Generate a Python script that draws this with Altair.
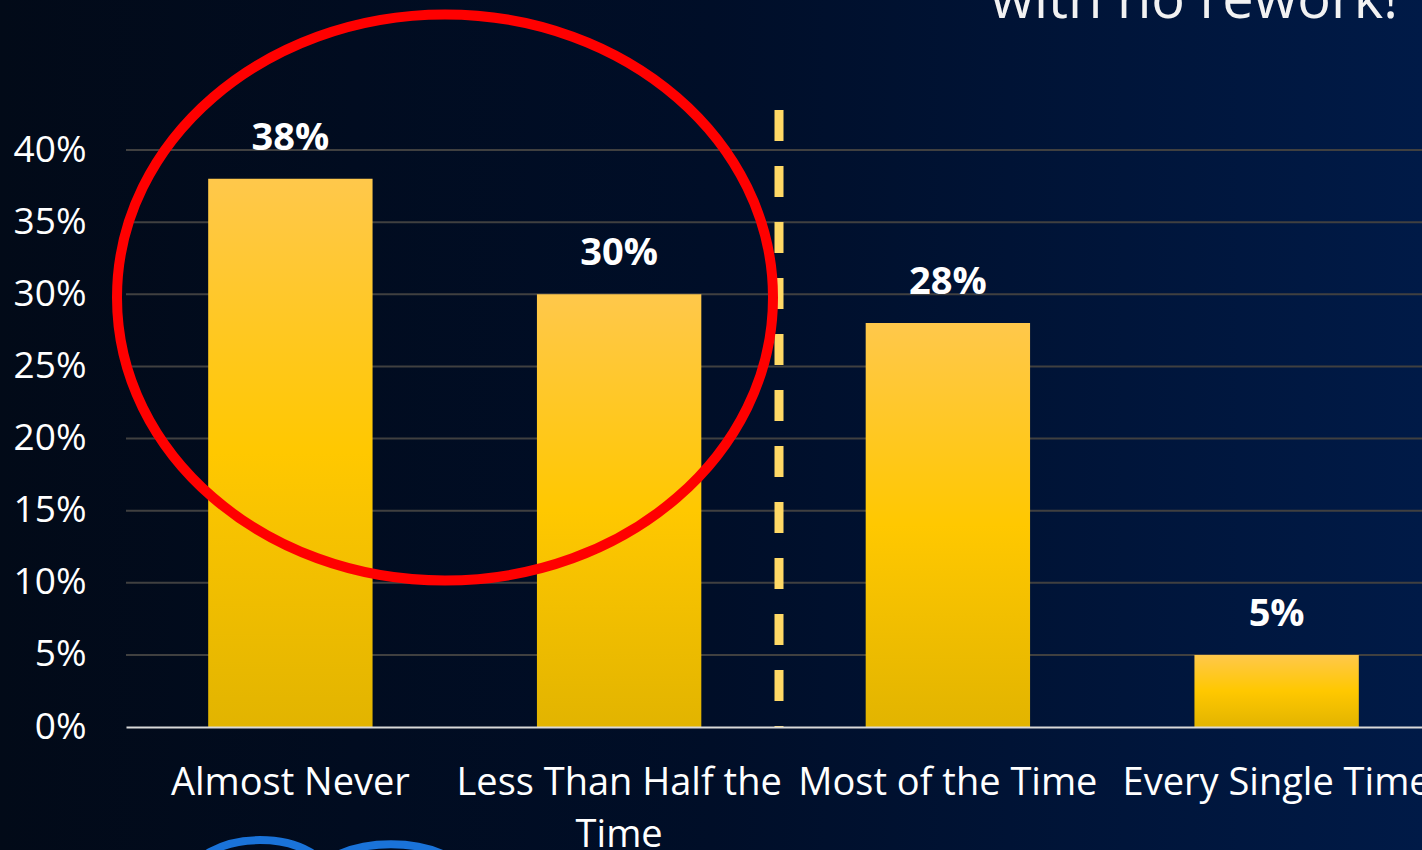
import altair as alt
import pandas as pd

# ---- data ----
categories = ["Almost Never", "Less Than Half the Time", "Most of the Time", "Every Single Time"]
shares = [0.38, 0.30, 0.28, 0.05]
value_labels = ["38%", "30%", "28%", "5%"]
y_ticks = [0.0, 0.05, 0.10, 0.15, 0.20, 0.25, 0.30, 0.35, 0.40]
wrapped = {"Less Than Half the Time": ["Less Than Half the", "Time"]}
headline = "with no rework!"

# ---- layout ----
W, H = 1296, 577
PAD_L, PAD_T, PAD_R, PAD_B = 126, 150, 0, 123
FONT = "Open Sans"

df = pd.DataFrame({"cat": categories, "share": shares, "label": value_labels})
grid_df = pd.DataFrame({"v": y_ticks[1:]})
one = pd.DataFrame({"a": [0]})

label_expr = "".join(
    f"datum.value == '{k}' ? {v!r} : " for k, v in wrapped.items()
) + "datum.value"

xscale = alt.Scale(domain=categories, range=[0, 1315], paddingInner=0.5, paddingOuter=0.25)
yscale = alt.Scale(domain=[0, 0.4], nice=False)

x_axis = alt.Axis(
    title=None, labelAngle=0, ticks=False, grid=False,
    domainColor="#d9d9d9", domainWidth=2,
    labelColor="white", labelFont=FONT, labelFontSize=38,
    labelPadding=37, labelLineHeight=52, labelExpr=label_expr,
    labelLimit=1000, labelOverlap=False, zindex=1,
)
y_axis = alt.Axis(
    title=None, values=y_ticks, format=".0%", grid=False, domain=False, ticks=False,
    labelColor="white", labelFont=FONT, labelFontSize=37, labelPadding=40, zindex=1,
)

bg_grad = alt.LinearGradient(
    gradient="linear",
    stops=[alt.GradientStop(color="#020a18", offset=0),
           alt.GradientStop(color="#000e28", offset=0.5),
           alt.GradientStop(color="#001a47", offset=1)],
    x1=0, x2=1, y1=0, y2=0,
)
bar_grad = alt.LinearGradient(
    gradient="linear",
    stops=[alt.GradientStop(color="#FFC84B", offset=0),
           alt.GradientStop(color="#FFC800", offset=0.5),
           alt.GradientStop(color="#E2B400", offset=1)],
    x1=0, x2=0, y1=0, y2=1,
)

def ellipse_path(r):
    k = 0.55228
    return (f"M -1 0 C -1 {-r*k:.4f} {-k} {-r} 0 {-r} "
            f"C {k} {-r} 1 {-r*k:.4f} 1 0 "
            f"C 1 {r*k:.4f} {k} {r} 0 {r} "
            f"C {-k} {r} -1 {r*k:.4f} -1 0 Z")

background = alt.Chart(one).mark_rect(fill=bg_grad).encode(
    x=alt.value(-PAD_L), x2=alt.value(W + PAD_R),
    y=alt.value(-PAD_T), y2=alt.value(H + PAD_B),
)

grid = alt.Chart(grid_df).mark_rule(color="#404040", strokeWidth=2).encode(
    y=alt.Y("v:Q", scale=yscale, axis=y_axis),
)

bars = alt.Chart(df).mark_bar(fill=bar_grad).encode(
    x=alt.X("cat:N", scale=xscale, sort=categories, axis=x_axis),
    y=alt.Y("share:Q", scale=yscale, axis=y_axis),
)

texts = alt.Chart(df).mark_text(
    dy=-29, baseline="alphabetic", fontSize=38, fontWeight="bold", font=FONT, color="white"
).encode(
    x=alt.X("cat:N", scale=xscale, sort=categories, axis=x_axis),
    y=alt.Y("share:Q", scale=yscale, axis=y_axis),
    text="label:N",
)

divider = alt.Chart(one).mark_rule(
    color="#FFD966", strokeWidth=9, strokeDash=[31, 25]
).encode(x=alt.value(653), y=alt.value(-40), y2=alt.value(H))

ring = alt.Chart(one).mark_point(
    shape=ellipse_path(0.863), size=656 ** 2, filled=False,
    stroke="#FF0000", strokeWidth=10, opacity=1,
).encode(x=alt.value(319), y=alt.value(147.5))

logo_a = alt.Chart(one).mark_point(
    shape=ellipse_path(0.57), size=140 ** 2, filled=False,
    stroke="#1a73d9", strokeWidth=8, opacity=1,
).encode(x=alt.value(134), y=alt.value(730))

logo_b = alt.Chart(one).mark_point(
    shape=ellipse_path(0.51), size=156 ** 2, filled=False,
    stroke="#1a73d9", strokeWidth=8, opacity=1,
).encode(x=alt.value(265), y=alt.value(734))

title = alt.Chart(one).mark_text(
    align="right", baseline="alphabetic", fontSize=56, font=FONT, color="#f2f2f2"
).encode(x=alt.value(1272), y=alt.value(-132), text=alt.value(headline))

chart = alt.layer(
    background, grid, bars, texts, divider, ring, logo_a, logo_b, title
).properties(
    width=W, height=H,
    autosize=alt.AutoSizeParams(type="none"),
    padding={"left": PAD_L, "top": PAD_T, "right": PAD_R, "bottom": PAD_B},
    background="#000a1c",
).configure_view(stroke=None)

chart.save("out.html", embed_options={"renderer": "svg", "actions": False})
